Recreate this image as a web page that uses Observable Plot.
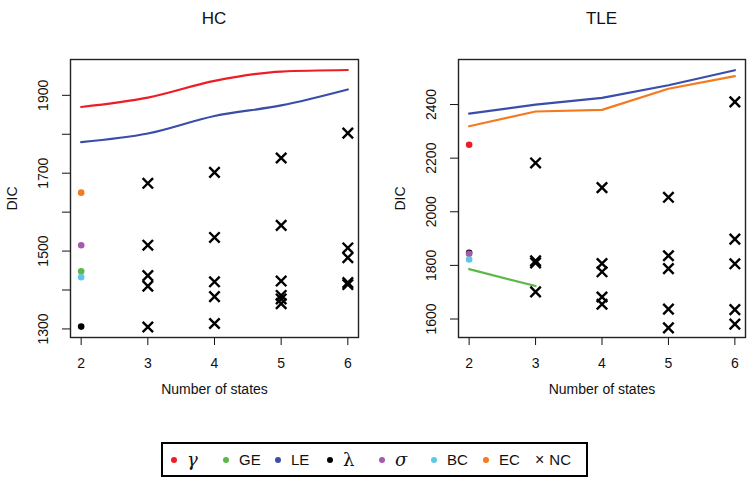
<!DOCTYPE html>
<html>
<head>
<meta charset="utf-8">
<script src="https://cdn.jsdelivr.net/npm/d3@7"></script>
<script src="https://cdn.jsdelivr.net/npm/@observablehq/plot@0.6"></script>
<style>
  html, body { margin: 0; padding: 0; background: #fff; }
  body { font-family: "Liberation Sans", Arial, sans-serif; }
  #wrap { position: relative; width: 750px; height: 483px; overflow: hidden; background: #fff; }
  .panel { position: absolute; top: 0; z-index: 1; }
  .title { position: absolute; top: 9px; font-size: 17px; line-height: 20px; text-align: center; color: #111; z-index: 2; }
  #legend { position: absolute; left: 161px; top: 442px; width: 427px; height: 35px; box-sizing: border-box;
            border: 2.5px solid #000; display: flex; align-items: center; padding-left: 8px; z-index: 2; }
  .item { width: 52px; flex: none; display: flex; align-items: center; font-size: 15px; color: #111; white-space: nowrap; }
  .dot { width: 6px; height: 6px; border-radius: 50%; margin-right: 10px; flex: none; }
  .greek { font-family: "DejaVu Serif", "Liberation Serif", serif; font-size: 18px; line-height: 15px; }
  .times { margin-right: 5px; font-size: 16px; }
</style>
</head>
<body>
<div id="wrap">
  <div class="title" style="left:70px;width:288px;">HC</div>
  <div class="title" style="left:458px;width:287px;">TLE</div>
  <div id="left" class="panel" style="left:0px;"></div>
  <div id="right" class="panel" style="left:388px;"></div>
  <div id="legend"></div>
</div>
<script>
// ---------- data ----------
const states = [2, 3, 4, 5, 6];

// HC panel
const hcGamma = [1870, 1894, 1937, 1961, 1965];
const hcLE = [1780, 1802, 1847, 1874, 1915];
const hcPointSeries = ["λ", "GE", "BC", "σ", "EC"];
const hcPointValues = [1306, 1448, 1433, 1515, 1650];
const hcNCStates = [3,3,3,3,3, 4,4,4,4,4, 5,5,5,5,5,5, 6,6,6,6,6];
const hcNCValues = [1674,1515,1437,1410,1305, 1702,1535,1421,1383,1314, 1739,1566,1423,1386,1377,1365, 1803,1508,1483,1419,1414];
const hcYTicks = [1300, 1400, 1500, 1600, 1700, 1800, 1900];
const hcYLabels = [1300, 1500, 1700, 1900];

// TLE panel
const tleLE = [2366, 2400, 2425, 2472, 2528];
const tleEC = [2319, 2374, 2380, 2459, 2506];
const tleGEStates = [2, 3];
const tleGE = [1786, 1723];
const tlePointSeries = ["γ", "λ", "σ", "BC"];
const tlePointValues = [2250, 1847, 1843, 1822];
const tleNCStates = [3,3,3,3, 4,4,4,4,4, 5,5,5,5,5, 6,6,6,6,6];
const tleNCValues = [2182,1817,1809,1701, 2090,1807,1776,1682,1655, 2054,1836,1788,1637,1567, 2410,1898,1806,1635,1581];
const tleYTicks = [1600, 1800, 2000, 2200, 2400];
const tleYLabels = [1600, 1800, 2000, 2200, 2400];

// legend
const legendKeys = ["γ", "GE", "LE", "λ", "σ", "BC", "EC", "NC"];

// ---------- styles ----------
const palette = {
  "γ": "#ee1c25", "GE": "#5db847", "LE": "#3a4da8", "λ": "#000000",
  "σ": "#a65aab", "BC": "#5cc8e6", "EC": "#f47a20", "NC": "#000000"
};
const greek = new Set(["γ", "λ", "σ"]);
const font = '"Liberation Sans", Arial, sans-serif';

function panel({yDomain, yTicks, yLabels, lines, points, ncStates, ncValues, width, marginRight, curve}) {
  const lineMarks = lines.map(L =>
    Plot.line(L.xs.map((s, i) => ({s, v: L.ys[i]})), {x: "s", y: "v", stroke: palette[L.key], strokeWidth: 2.2, curve})
  );
  const pts = points.series.map((k, i) => ({k, s: 2, v: points.values[i]}));
  const nc = ncStates.map((s, i) => ({s, v: ncValues[i]}));
  return Plot.plot({
    width, height: 420,
    marginLeft: 70, marginRight, marginTop: 59, marginBottom: 83,
    style: {fontFamily: font, fontSize: "14px", color: "#111", background: "transparent"},
    x: {domain: [1.84, 6.16]},
    y: {domain: yDomain},
    marks: [
      Plot.axisX({ticks: states, tickFormat: d => String(d), tickSize: 8, tickPadding: 13,
                  label: "Number of states", labelAnchor: "center", labelOffset: 56, labelArrow: "none"}),
      Plot.axisY({ticks: yTicks, tickFormat: d => yLabels.includes(d) ? String(d) : "", tickRotate: -90,
                  tickSize: 8, tickPadding: 15,
                  label: "DIC", labelAnchor: "center", labelOffset: 63, labelArrow: "none"}),
      ...lineMarks,
      Plot.dot(pts, {x: "s", y: "v", fill: d => palette[d.k], r: 3.3, stroke: "none"}),
      Plot.dot(nc, {x: "s", y: "v", symbol: "times", r: 4.8, stroke: "#000", strokeWidth: 2.4}),
      Plot.frame({stroke: "#222", strokeWidth: 1.4})
    ]
  });
}

document.getElementById("left").append(panel({
  yDomain: [1278, 1992], yTicks: hcYTicks, yLabels: hcYLabels,
  lines: [{key: "γ", xs: states, ys: hcGamma}, {key: "LE", xs: states, ys: hcLE}],
  points: {series: hcPointSeries, values: hcPointValues},
  ncStates: hcNCStates, ncValues: hcNCValues,
  width: 388, marginRight: 30, curve: "monotone-x"
}));

document.getElementById("right").append(panel({
  yDomain: [1531, 2568], yTicks: tleYTicks, yLabels: tleYLabels,
  lines: [{key: "LE", xs: states, ys: tleLE}, {key: "EC", xs: states, ys: tleEC}, {key: "GE", xs: tleGEStates, ys: tleGE}],
  points: {series: tlePointSeries, values: tlePointValues},
  ncStates: tleNCStates, ncValues: tleNCValues,
  width: 362, marginRight: 5, curve: "linear"
}));

// legend
const leg = document.getElementById("legend");
for (const k of legendKeys) {
  const item = document.createElement("div");
  item.className = "item";
  if (k === "NC") {
    const t = document.createElement("span");
    t.className = "times"; t.textContent = "×";
    item.append(t);
  } else {
    const d = document.createElement("span");
    d.className = "dot"; d.style.background = palette[k];
    item.append(d);
  }
  const label = document.createElement("span");
  label.textContent = k;
  if (greek.has(k)) { label.className = "greek"; if (k !== "λ") label.style.fontStyle = "italic"; }
  item.append(label);
  leg.append(item);
}
</script>
</body>
</html>
